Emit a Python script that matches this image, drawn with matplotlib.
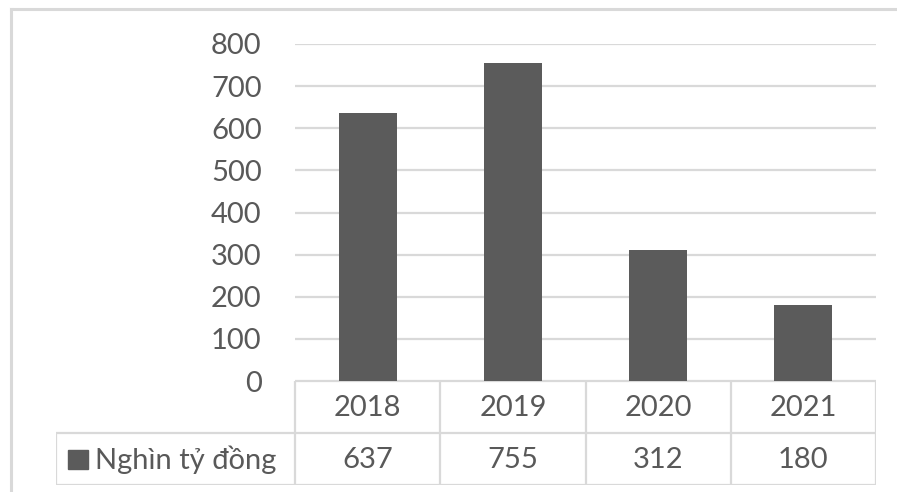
import matplotlib.pyplot as plt
from matplotlib.lines import Line2D
from matplotlib.patches import Rectangle

years = ['2018', '2019', '2020', '2021']
values = [637, 755, 312, 180]
series_name = 'Nghìn tỷ đồng'
yticks = [0, 100, 200, 300, 400, 500, 600, 700, 800]

W, H = 897, 492
bar_color = '#5b5b5b'
text_color = '#595959'
grid_color = '#d9d9d9'
fonts = ['Lato', 'DejaVu Sans']
plt.rcParams['font.family'] = fonts
fsize = 21

fig = plt.figure(figsize=(W / 100, H / 100), dpi=100)


def fx(px):
    return px / W


def fy(py):
    return 1 - py / H


# chart frame (only top and left edges are in view)
fig.add_artist(Line2D([fx(10.5), 1], [fy(8.5), fy(8.5)], color=grid_color, lw=2.2))
fig.add_artist(Line2D([fx(10.5), fx(10.5)], [fy(8.5), 0], color=grid_color, lw=2.2))

# plot area
x0, x1, ytop, ybot = 295, 876, 44, 381
ax = fig.add_axes([fx(x0), fy(ybot), fx(x1) - fx(x0), fy(ytop) - fy(ybot)])
pos = range(len(years))
ax.bar(pos, values, width=0.4, color=bar_color, zorder=3)
ax.set_xlim(-0.5, len(years) - 0.5)
ax.set_ylim(0, 800)
ax.set_yticks(yticks)
ax.yaxis.grid(True, color=grid_color, lw=1.6, zorder=0)
ax.set_xticks([])
ax.tick_params(axis='y', length=0, pad=24, labelsize=fsize, labelcolor=text_color)
for s in ax.spines.values():
    s.set_visible(False)

# data table under the plot
tax = fig.add_axes([fx(56), fy(485), fx(x1) - fx(56), fy(ybot) - fy(485)])
tax.set_xlim(56, x1)
tax.set_ylim(485, ybot)
tax.axis('off')
col_w = (x1 - x0) / len(years)
cols = [x0 + i * col_w for i in range(len(years) + 1)]
row_mid = 433
lk = dict(color=grid_color, lw=1.6, solid_capstyle='butt')
tax.plot([x0, x1], [ybot, ybot], **lk)
tax.plot([56, x1], [row_mid, row_mid], **lk)
tax.plot([56, x1], [485, 485], **lk)
tax.plot([56, 56], [row_mid, 485], **lk)
for c in cols:
    tax.plot([c, c], [ybot, 485], **lk)

for i, (yr, v) in enumerate(zip(years, values)):
    cx = (cols[i] + cols[i + 1]) / 2
    tax.text(cx, (ybot + row_mid) / 2 + 1, yr, ha='center', va='center',
             fontsize=fsize, color=text_color)
    tax.text(cx, (row_mid + 485) / 2 + 1, str(v), ha='center', va='center',
             fontsize=fsize, color=text_color)

tax.add_patch(Rectangle((68, 450), 20, 19, color=bar_color))
tax.text(95, (row_mid + 485) / 2 + 1, series_name, ha='left', va='center',
         fontsize=fsize, color=text_color)

fig.savefig('out.png', dpi=100)
